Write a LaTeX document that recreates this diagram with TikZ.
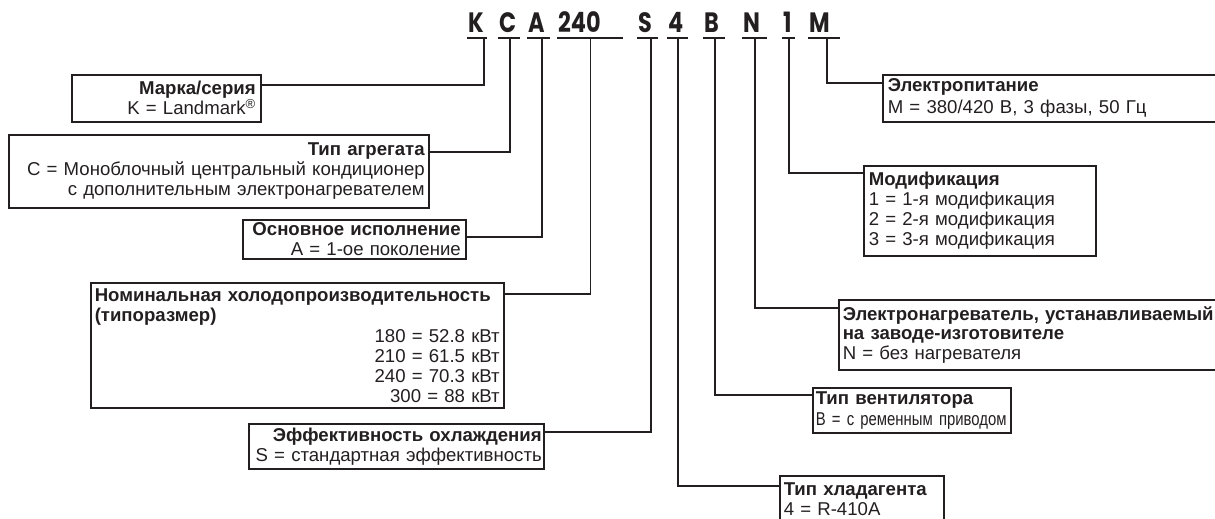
\documentclass[tikz,border=0pt]{standalone}
\usepackage{fontspec}
\setmainfont{Liberation Sans}
\newfontfamily\codefont{Poppins}[FakeStretch=0.8]
\newfontfamily\narrowfont{Liberation Sans}[FakeStretch=0.8]
\definecolor{lineGray}{HTML}{231F20}
\newcommand{\keyfont}{\fontsize{18.6}{20}\selectfont}

\begin{document}
\begin{tikzpicture}[
    x=1pt, y=-1pt,
    letterfield/.style={font=\codefont\bfseries\fontsize{28}{28}\selectfont, text=lineGray, anchor=south west, align=left, inner xsep=1pt, inner ysep=5pt, text width=#1},
    uline/.style={line width=2.6pt, color=lineGray},
    box/.style={draw=lineGray, line width=1.5pt, anchor=north west, inner xsep=5pt, inner ysep=0pt, font=\keyfont, text=lineGray},
    lbox/.style={box, align=right},
    rbox/.style={box, align=left},
    conn/.style={line width=1.6pt, color=lineGray}
  ]
    \clip (0,0) rectangle (1215,519);

    \node[letterfield=18pt] (cK) at (467,38) {K};
    \node[letterfield=20pt] (cC) at (498,38) {C};
    \node[letterfield=21pt] (cA) at (527,38) {A};
    \node[letterfield=64pt] (cSize) at (557,38) {240};
    \node[letterfield=19pt] (cS) at (637,38) {S};
    \node[letterfield=19pt] (cRef) at (667,38) {4};
    \node[letterfield=20pt] (cB) at (703,38) {B};
    \node[letterfield=23pt] (cN) at (742,38) {N};
    \node[letterfield=11pt] (cMod) at (782,38) {1};
    \node[letterfield=30pt] (cM) at (808,38) {M};
    \foreach \c in {cK,cC,cA,cSize,cS,cRef,cB,cN,cMod,cM}
      \draw[uline] (\c.south west) -- (\c.south east);

    \node[lbox, text width=179pt, minimum height=47pt] (marka) at (71,74)
      {\textbf{Марка/серия}\\K = Landmark\textsuperscript{®}};
    \node[lbox, text width=412pt, inner xsep=4pt, minimum height=73pt] (agregat) at (8,134)
      {\textbf{Тип агрегата}\\C = Моноблочный центральный кондиционер\\с дополнительным электронагревателем};
    \node[lbox, text width=213pt, minimum height=39pt] (osnova) at (242,219)
      {\textbf{Основное исполнение}\\A = 1-ое поколение};
    \node[box, align=left, inner xsep=4pt, text width=405pt, minimum height=125pt] (nominal) at (90,282)
      {\textbf{Номинальная холодопроизводительность}\\\textbf{(типоразмер)}\\[1pt]
       \hspace*{\fill}180 = 52.8 кВт\\\hspace*{\fill}210 = 61.5 кВт\\
       \hspace*{\fill}240 = 70.3 кВт\\\hspace*{\fill}300 = 88 кВт};
    \node[lbox, inner xsep=2pt, text width=291pt, minimum height=45pt] (effekt) at (248,423)
      {\textbf{Эффективность охлаждения}\\S = стандартная эффективность};

    \node[rbox, text width=343pt, minimum height=47pt] (pitanie) at (882,74)
      {\textbf{Электропитание}\\[2pt]M = 380/420 В, 3 фазы, 50 Гц};
    \node[rbox, text width=222pt, minimum height=90pt] (modif) at (863,165)
      {\textbf{Модификация}\\1 = 1-я модификация\\2 = 2-я модификация\\3 = 3-я модификация};
    \node[rbox, inner xsep=4pt, text width=394pt, minimum height=70pt] (nagrev) at (838,299)
      {\textbf{Электронагреватель, устанавливаемый}\\[-1pt]\textbf{на заводе-изготовителе}\\N = без нагревателя};
    \node[rbox, inner xsep=3pt, text width=192pt, minimum height=45pt] (ventil) at (812,387)
      {\textbf{Тип вентилятора}\\[1pt]\mbox{\narrowfont B = с ременным приводом}};
    \node[rbox, inner xsep=4pt, text width=156pt, minimum height=46pt] (hladag) at (779,475)
      {\textbf{Тип хладагента}\\4 = R-410A};

    \draw[conn] ([xshift=7pt]cK.south) |- ([yshift=-11pt]marka.north east);
    \draw[conn] ([xshift=1pt]cC.south) |- ([yshift=-18pt]agregat.north east);
    \draw[conn] ([xshift=3.5pt]cA.south) |- ([yshift=-18pt]osnova.north east);
    \draw[conn] ([xshift=-33pt]cSize.south east) |- ([yshift=-12pt]nominal.north east);
    \draw[conn] ([xshift=3.5pt]cS.south) |- ([yshift=-9pt]effekt.north east);
    \draw[conn] ([xshift=0.5pt]cRef.south) |- ([yshift=-11pt]hladag.north west);
    \draw[conn] ([xshift=1pt]cB.south) |- ([yshift=-8pt]ventil.north west);
    \draw[conn] ([xshift=0.5pt]cN.south) |- ([yshift=-9pt]nagrev.north west);
    \draw[conn] (cMod.south) |- ([yshift=-8pt]modif.north west);
    \draw[conn] ([xshift=3pt]cM.south) |- ([yshift=-9pt]pitanie.north west);
  \end{tikzpicture}
\end{document}
